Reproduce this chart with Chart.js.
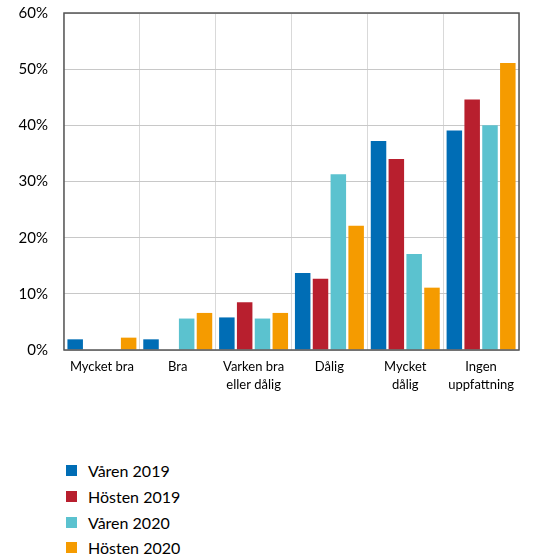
<!DOCTYPE html>
<html>
<head>
<meta charset="utf-8">
<script src="https://cdn.jsdelivr.net/npm/chart.js@4.4.1/dist/chart.umd.min.js"></script>
<style>
  html, body { margin: 0; padding: 0; background: #fff; }
  #wrap { position: relative; width: 533px; height: 559px; overflow: hidden; }
  #chart { position: absolute; left: 0; top: 0; }
  #legend { position: absolute; left: 66px; top: 458px; margin: 0; padding: 0; list-style: none;
            font-family: Lato, "Open Sans", sans-serif; font-size: 16px; color: #000; }
  #legend li { height: 25.7px; display: flex; align-items: center; }
  #legend .sw { width: 11px; height: 11px; margin-right: 11px; flex: none; }
</style>
</head>
<body>
<div id="wrap">
  <canvas id="chart" width="533" height="410"></canvas>
  <ul id="legend"></ul>
</div>
<script>
// Answer categories (x axis)
const categories = [
  "Mycket bra",
  "Bra",
  ["Varken bra", "eller dålig"],
  "Dålig",
  ["Mycket", "dålig"],
  ["Ingen", "uppfattning"]
];

// Survey rounds (series)
const seriesNames = ["Våren 2019", "Hösten 2019", "Våren 2020", "Hösten 2020"];
const seriesColors = ["#006db5", "#b81f2e", "#5bc2cf", "#f59b00"];

// Share of answers per category, percent
const varen2019  = [1.9, 1.9, 5.8, 13.7, 37.2, 39.1];
const hosten2019 = [null, null, 8.5, 12.7, 34.0, 44.6];
const varen2020  = [null, 5.6, 5.6, 31.3, 17.1, 40.0];
const hosten2020 = [2.2, 6.6, 6.6, 22.1, 11.1, 51.1];

// Y axis tick values
const yTicks = [0, 10, 20, 30, 40, 50, 60];

const seriesValues = [varen2019, hosten2019, varen2020, hosten2020];

const FONT = 'Lato, "Open Sans", sans-serif';

// Dark frame around the plot area
const frame = {
  id: 'frame',
  afterDatasetsDraw(chart) {
    const { ctx, chartArea: a } = chart;
    ctx.save();
    ctx.strokeStyle = '#555';
    ctx.lineWidth = 1.5;
    ctx.strokeRect(a.left, a.top, a.right - a.left, a.bottom - a.top);
    ctx.restore();
  }
};

const chart = new Chart(document.getElementById('chart'), {
  type: 'bar',
  data: {
    labels: categories,
    datasets: seriesNames.map((name, i) => ({
      label: name,
      data: seriesValues[i],
      backgroundColor: seriesColors[i],
      borderWidth: 0,
      categoryPercentage: 0.94,
      barPercentage: 0.87
    }))
  },
  options: {
    responsive: false,
    animation: false,
    layout: { padding: { top: 13, right: 14, left: 0, bottom: 0 } },
    plugins: {
      legend: { display: false },
      tooltip: { enabled: false }
    },
    scales: {
      x: {
        grid: { color: '#d9d9d9', lineWidth: 1, drawTicks: false, offset: true },
        border: { display: false },
        ticks: { color: '#000', font: { family: FONT, size: 13, lineHeight: 1.4 }, padding: 8,
                 maxRotation: 0, autoSkip: false },
        afterFit(scale) { scale.height = 60; scale.paddingLeft = 0; scale.paddingRight = 0; }
      },
      y: {
        min: 0, max: 60,
        afterBuildTicks(scale) { scale.ticks = yTicks.map(v => ({ value: v })); },
        grid: { color: '#c8c8c8', lineWidth: 1, drawTicks: false },
        border: { display: false },
        ticks: { color: '#000', font: { family: FONT, size: 15 }, padding: 16,
                 callback: v => v + '%' },
        afterFit(scale) { scale.width = 64; scale.paddingTop = 0; scale.paddingBottom = 0; }
      }
    }
  },
  plugins: [frame]
});

// Legend as a vertical list built from the chart's datasets
const legend = document.getElementById('legend');
chart.data.datasets.forEach(ds => {
  const li = document.createElement('li');
  const sw = document.createElement('span');
  sw.className = 'sw';
  sw.style.background = ds.backgroundColor;
  li.appendChild(sw);
  li.appendChild(document.createTextNode(ds.label));
  legend.appendChild(li);
});
</script>
</body>
</html>
